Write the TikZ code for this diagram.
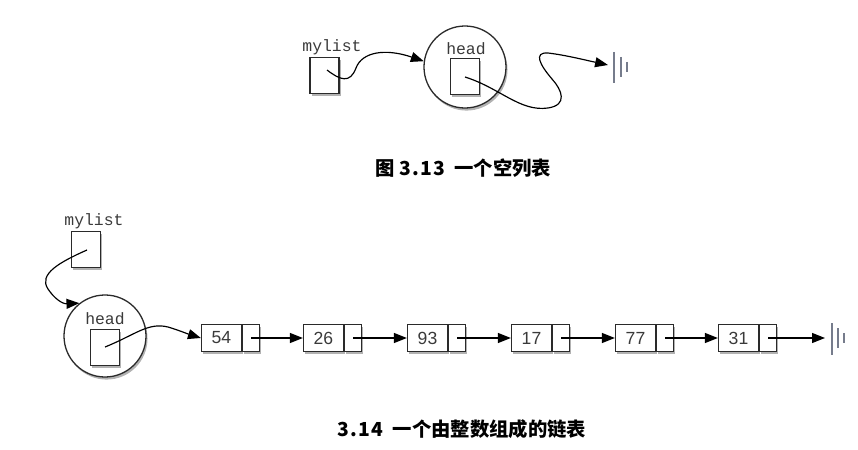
\documentclass[tikz,border=0pt]{standalone}
\usepackage{fontspec}
\setmainfont{Liberation Sans}
\newfontfamily\labelmono{Liberation Mono}
\newfontfamily\cjkfont{Noto Sans CJK SC}
\usetikzlibrary{arrows.meta,shadows}
\definecolor{edgegray}{HTML}{2A2A2A}
\definecolor{groundcol}{HTML}{767C8C}
\definecolor{txtgray}{HTML}{3A3A3A}
\newcommand{\capdigits}[1]{{\addfontfeature{LetterSpace=6}#1}}
\begin{document}
\begin{tikzpicture}[x=0.03cm,y=-0.03cm,
  boxshadow/.style={drop shadow={shadow xshift=1.3pt,shadow yshift=-2.2pt,opacity=0.3,fill=black}},
  varbox/.style={draw=edgegray,line width=1.1pt,fill=white,minimum width=0.87cm,minimum height=1.08cm,inner sep=0pt,boxshadow},
  headcirc/.style={circle,draw=edgegray,line width=1.1pt,fill=white,minimum size=2.46cm,inner sep=0pt,boxshadow},
  datacell/.style={draw=edgegray,line width=1.1pt,fill=white,minimum width=1.2cm,minimum height=0.8cm,inner sep=0pt,boxshadow,
    font=\fontsize{15}{17}\selectfont,text=txtgray},
  ptrcell/.style={draw=edgegray,line width=1.1pt,fill=white,minimum width=0.51cm,minimum height=0.8cm,inner sep=0pt,boxshadow,anchor=west},
  monolabel/.style={font=\labelmono\fontsize{14}{16}\selectfont,text=txtgray,inner sep=0pt},
  link/.style={draw=black,line width=1pt,-{Triangle[length=11pt,width=8.5pt]}},
  groundline/.style={draw=groundcol,line width=2.2pt},
  caption/.style={font=\cjkfont\bfseries\fontsize{16.5}{19}\selectfont,text=black,inner sep=0pt}
]
\useasboundingbox (0,0) rectangle (858,450);

% ---------- Figure 3.13 ----------
\node[monolabel] (ml1) at (332,47) {mylist};
\node[varbox] (mbox1) at (324.5,75.5) {};
\node[headcirc] (head1) at (465,67) {};
\node[monolabel] (hl1) at (466,49) {head};
\node[varbox] (hbox1) at (465,76.5) {};
\coordinate (s1) at (327,70);
\coordinate (s2) at (465,77);
\coordinate (g1) at (608,65);
\draw[link] (s1) .. controls (340,80) and (350,84) .. (356,68)
  .. controls (362,52) and (385,48) .. (head1.172);
\draw[link] (s2) .. controls (500,88) and (520,112) .. (548,108)
  .. controls (568,105) and (562,90) .. (552,79)
  .. controls (540,65) and (533,52) .. (548,53)
  .. controls (565,55) and (585,60) .. (g1);
\draw[groundline] (614,52) -- (614,83);
\draw[groundline] (621,57) -- (621,77);
\draw[groundline] (627,62) -- (627,72);

\node[caption] (cap1) at (463.5,168) {图\hspace{4pt}\capdigits{3.13}\hspace{8pt}一个空列表};

% ---------- Figure 3.14 ----------
\node[monolabel] (ml2) at (94,221) {mylist};
\node[varbox] (mbox2) at (86,249.5) {};
\node[headcirc] (head2) at (105,336) {};
\node[monolabel] (hl2) at (105,319) {head};
\node[varbox] (hbox2) at (105,347.5) {};
\coordinate (s3) at (87,250);
\coordinate (s4) at (105,347);
\draw[link] (s3) .. controls (60,262) and (38,274) .. (48,289)
  .. controls (54,298) and (62,304) .. (head2.128);

\node[datacell] (d54) at (221.5,338) {54};
\node[ptrcell] (p54) at (d54.east) {};
\node[datacell] (d26) at (323.5,338) {26};
\node[ptrcell] (p26) at (d26.east) {};
\node[datacell] (d93) at (427.5,338) {93};
\node[ptrcell] (p93) at (d93.east) {};
\node[datacell] (d17) at (531.5,338) {17};
\node[ptrcell] (p17) at (d17.east) {};
\node[datacell] (d77) at (635.5,338) {77};
\node[ptrcell] (p77) at (d77.east) {};
\node[datacell] (d31) at (738.5,338) {31};
\node[ptrcell] (p31) at (d31.east) {};
\coordinate (g2) at (825,338);

\draw[link] (s4) .. controls (135,335) and (148,322) .. (168,327)
  .. controls (178,330) and (188,334) .. (d54.west);
\draw[link] (p54.center) -- (d26.west);
\draw[link] (p26.center) -- (d93.west);
\draw[link] (p93.center) -- (d17.west);
\draw[link] (p17.center) -- (d77.west);
\draw[link] (p77.center) -- (d31.west);
\draw[link] (p31.center) -- (g2);
\draw[groundline] (832,323) -- (832,355);
\draw[groundline] (838,328) -- (838,348);
\draw[groundline] (844,333) -- (844,343);

\node[caption] (cap2) at (462,429) {\capdigits{3.14}\hspace{8pt}一个由整数组成的链表};
\end{tikzpicture}
\end{document}
